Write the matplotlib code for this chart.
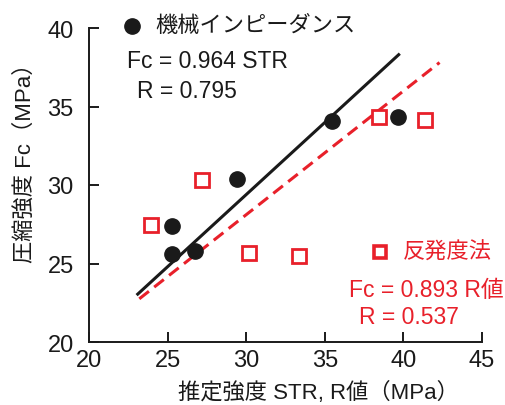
import matplotlib
matplotlib.use('Agg')
from matplotlib import pyplot as plt

plt.rcParams['font.family'] = ['Liberation Sans', 'Noto Sans CJK JP', 'DejaVu Sans']

red = '#e8202a'
black = '#1a1a1a'

# 機械インピーダンス (STR)
mi_x = [35.45, 39.65, 29.4, 25.3, 25.25, 26.75]
mi_y = [34.05, 34.3, 30.4, 27.4, 25.6, 25.8]
mi_fit_x = [23.1, 39.7]
mi_fit_y = [23.05, 38.3]

# 反発度法 (R値)
rb_x = [27.2, 23.95, 30.2, 33.35, 38.45, 41.35]
rb_y = [30.35, 27.45, 25.7, 25.5, 34.35, 34.15]
rb_fit_x = [23.2, 42.3]
rb_fit_y = [22.75, 37.8]

xticks = [20, 25, 30, 35, 40, 45]
yticks = [20, 25, 30, 35, 40]

fig = plt.figure(figsize=(5.05, 4.06), dpi=100)
ax = fig.add_axes([89/505, 1 - 343/406, (482-89)/505, (343-29)/406])

ax.plot(mi_fit_x, mi_fit_y, color=black, lw=2.2, zorder=2)
ax.plot(rb_fit_x, rb_fit_y, color=red, lw=2.2, dashes=(4, 2.2), zorder=2)
ax.plot(mi_x, mi_y, 'o', color=black, ms=11, zorder=3)
ax.plot(rb_x, rb_y, 's', mfc='white', mec=red, mew=2.0, ms=9.5, zorder=3)

ax.set_xlim(20, 45)
ax.set_ylim(20, 40)
ax.set_xticks(xticks)
ax.set_yticks(yticks)
for s in ['top', 'right']:
    ax.spines[s].set_visible(False)
for s in ['left', 'bottom']:
    ax.spines[s].set_linewidth(1.4)
    ax.spines[s].set_color(black)
ax.tick_params(direction='in', length=7, width=1.4, labelsize=17, color=black, labelcolor=black)
ax.tick_params(axis='y', pad=11)
ax.tick_params(axis='x', pad=5)

# legend-like annotations
fig.text(155/505, 1 - 27/406, '機械インピーダンス', fontsize=16, color=black, va='center')
fig.text(127/505, 1 - 62/406, 'Fc = 0.964 STR', fontsize=16.5, color=black, va='center')
fig.text(137/505, 1 - 92/406, 'R = 0.795', fontsize=16.5, color=black, va='center')
fig.text(403/505, 1 - 253/406, '反発度法', fontsize=16, color=red, va='center')
fig.text(349/505, 1 - 291/406, 'Fc = 0.893 R値', fontsize=16.5, color=red, va='center')
fig.text(359/505, 1 - 318/406, 'R = 0.537', fontsize=16.5, color=red, va='center')

fig.lines.append(plt.Line2D([132/505], [1 - 27/406], transform=fig.transFigure,
                            marker='o', color=black, ms=11, ls='none'))
fig.lines.append(plt.Line2D([380/505], [1 - 253/406], transform=fig.transFigure,
                            marker='s', mfc='white', mec=red, mew=2.6, ms=9, ls='none'))

fig.text(25/505, 1 - 158/406, '圧縮強度 Fc（MPa）', fontsize=16, color=black,
         rotation=90, ha='center', va='center')
fig.text(318/505, 1 - 393/406, '推定強度 STR, R値（MPa）', fontsize=16, color=black,
         ha='center', va='center')

fig.savefig('out.png', dpi=100)
